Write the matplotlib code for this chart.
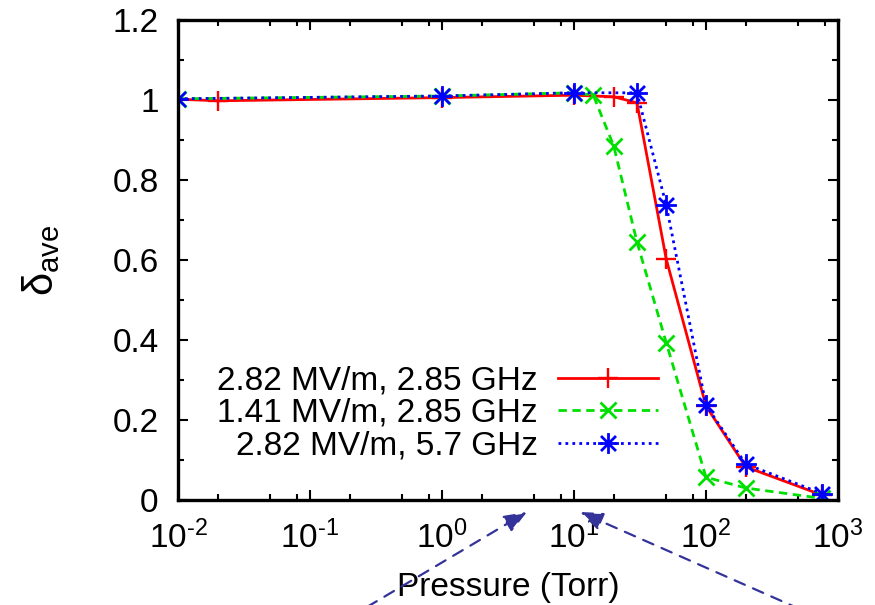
import matplotlib
matplotlib.use("Agg")
import matplotlib.pyplot as plt
import numpy as np
from matplotlib.path import Path
from matplotlib.ticker import MultipleLocator, NullFormatter, FixedLocator

plt.rcParams['font.family'] = ['Liberation Sans', 'DejaVu Sans']
plt.rcParams['mathtext.fontset'] = 'custom'
plt.rcParams['mathtext.rm'] = 'Liberation Sans'
plt.rcParams['mathtext.it'] = 'Liberation Sans:italic'
plt.rcParams['axes.unicode_minus'] = False

# Data
labels = ["2.82 MV/m, 2.85 GHz", "1.41 MV/m, 2.85 GHz", "2.82 MV/m, 5.7 GHz"]
red_x = [0.01, 0.02, 1, 10, 20, 30, 50, 100, 200, 760]
red_y = [1.002, 0.998, 1.006, 1.012, 1.008, 0.993, 0.602, 0.235, 0.083, 0.012]
green_x = [0.01, 1, 10, 14, 20, 30, 50, 100, 200, 760]
green_y = [1.003, 1.010, 1.018, 1.012, 0.885, 0.645, 0.393, 0.057, 0.030, 0.004]
blue_x = [0.01, 1, 10, 30, 50, 100, 200, 760]
blue_y = [1.003, 1.010, 1.018, 1.018, 0.737, 0.237, 0.090, 0.016]
xtick_vals = [0.01, 0.1, 1, 10, 100, 1000]
xtick_labels = [r'$\mathregular{10^{\text{-}2}}$', r'$\mathregular{10^{\text{-}1}}$',
                r'$\mathregular{10^{0}}$', r'$\mathregular{10^{1}}$',
                r'$\mathregular{10^{2}}$', r'$\mathregular{10^{3}}$']
ytick_vals = [0, 0.2, 0.4, 0.6, 0.8, 1.0, 1.2]
ytick_labels = ['0', '0.2', '0.4', '0.6', '0.8', '1', '1.2']

fig = plt.figure(figsize=(8.75, 6.05), dpi=100)
ax = fig.add_axes([178/875, 1-500/605, 660/875, 480/605])

# asterisk marker (+ and x combined)
s = 1.0
d = 0.72
verts = [(-s, 0), (s, 0), (0, -s), (0, s), (-d, -d), (d, d), (-d, d), (d, -d)]
codes = [Path.MOVETO, Path.LINETO] * 4
star = Path(verts, codes)

ax.plot(red_x, red_y, color='#ff0000', lw=2.0, ls='-', marker='+', ms=15, mew=1.7,
        label=labels[0])
ax.plot(green_x, green_y, color='#00e000', lw=2.0, ls=(0, (3, 2)), marker='x', ms=11, mew=2.0,
        label=labels[1])
ax.plot(blue_x, blue_y, color='#0000ff', lw=2.0, ls=(0, (1, 1.5)), marker=star, ms=15, mew=2.0,
        mfc='none', label=labels[2])

ax.set_xscale('log')
ax.set_xlim(0.01, 1000)
ax.set_ylim(0, 1.2)

ax.xaxis.set_major_locator(FixedLocator(xtick_vals))
ax.set_xticklabels(xtick_labels)
minors = [b * m for b in [0.01, 0.1, 1, 10, 100] for m in (2, 5, 8)]
ax.xaxis.set_minor_locator(FixedLocator(minors))
ax.xaxis.set_minor_formatter(NullFormatter())
ax.set_yticks(ytick_vals)
ax.set_yticklabels(ytick_labels)
ax.yaxis.set_minor_locator(MultipleLocator(0.1))

for sp in ax.spines.values():
    sp.set_linewidth(2.4)
ax.tick_params(which='both', direction='in', top=True, right=True, labelsize=24, width=1.5)
ax.tick_params(which='major', length=7)
ax.tick_params(which='minor', length=4)
ax.tick_params(axis='x', which='major', pad=15)
ax.tick_params(axis='y', which='major', pad=14)

ax.set_xlabel('Pressure (Torr)', fontsize=24, labelpad=12)
ax.set_ylabel(r'$\mathrm{\delta}_{\mathrm{ave}}$', fontsize=30, labelpad=36)

leg = ax.legend(loc='lower right', bbox_to_anchor=(0.727, 0.08), frameon=False,
                markerfirst=False, fontsize=24, handlelength=3.0, handletextpad=0.6,
                labelspacing=0.05, borderpad=0, borderaxespad=0)

arrow_col = '#33339a'
ax.annotate('', xy=(4.4, -0.03), xycoords='data',
            xytext=(350/875, -0.02), textcoords='figure fraction',
            arrowprops=dict(arrowstyle='-|>,head_length=1.4,head_width=0.55', color=arrow_col,
                            lw=1.6, ls=(0, (5, 4)), shrinkA=0, shrinkB=0),
            annotation_clip=False)
ax.annotate('', xy=(11.1, -0.03), xycoords='data',
            xytext=(818/875, -0.02), textcoords='figure fraction',
            arrowprops=dict(arrowstyle='-|>,head_length=1.4,head_width=0.55', color=arrow_col,
                            lw=1.6, ls=(0, (5, 4)), shrinkA=0, shrinkB=0),
            annotation_clip=False)

fig.savefig('out.png', dpi=100)
